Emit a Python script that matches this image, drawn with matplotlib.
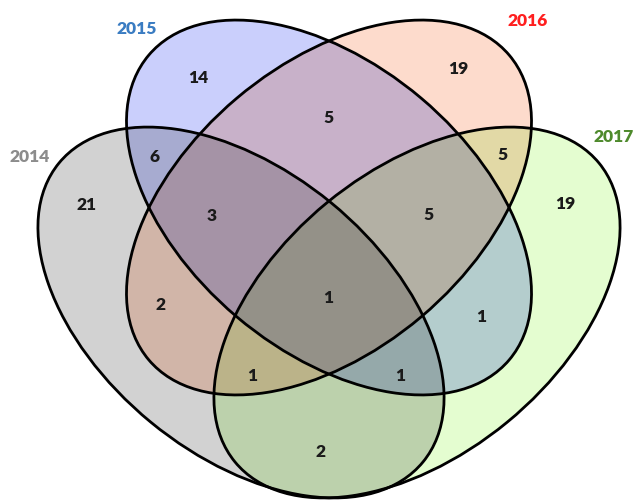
import matplotlib
matplotlib.use("Agg")
import matplotlib.pyplot as plt
from matplotlib.patches import Ellipse
import numpy as np

# sets and region counts
years = ["2014", "2015", "2016", "2017"]
regions = ["2014", "2015", "2016", "2017",
           "2014&2015", "2015&2016", "2016&2017",
           "2014&2015&2016", "2015&2016&2017", "2014&2016",
           "2014&2015&2016&2017", "2015&2017",
           "2014&2016&2017", "2014&2015&2017", "2014&2017"]
counts = [21, 14, 19, 19,
          6, 5, 5,
          3, 5, 2,
          1, 1,
          1, 1, 2]


def main():
    fill_colors = {"2014": (211, 211, 211),
                   "2015": (202, 207, 252),
                   "2016": (253, 219, 204),
                   "2017": (228, 253, 208)}
    label_colors = {"2014": "#8c8c8c", "2015": "#3a7cc2",
                    "2016": "#ff1f1f", "2017": "#4e8a2c"}
    # ellipse geometry in pixel space: (cx, cy, semi major, semi minor, angle)
    shapes = {"2014": (241, 312.5, 235.5, 142, 39.4),
              "2015": (329, 207.5, 236, 143, 40.2),
              "2016": (329, 207.5, 236, 143, -40.2),
              "2017": (417, 312.5, 235.5, 142, -39.4)}
    label_pos = {"2014": (30, 157), "2015": (137, 29),
                 "2016": (528, 21), "2017": (614, 137)}
    text_pos = [(87, 205), (198, 78), (458, 69), (565, 204),
                (154, 157), (328, 118), (502, 155),
                (212, 216), (428, 215), (160, 305),
                (328, 298), (481, 317),
                (252, 376), (400, 376), (320, 452)]

    W, H = 635, 501
    fig = plt.figure(figsize=(W / 100, H / 100), dpi=100)
    ax = fig.add_axes([0, 0, 1, 1])
    ax.set_xlim(0, W)
    ax.set_ylim(H, 0)
    ax.axis("off")

    # overlapping fills multiply like transparent films
    xs = np.linspace(0, W, 2 * W)
    ys = np.linspace(0, H, 2 * H)
    gx, gy = np.meshgrid(xs, ys)
    img = np.ones((len(ys), len(xs), 3))
    for y in years:
        cx, cy, a, b, ang = shapes[y]
        t = np.deg2rad(ang)
        dx, dy = gx - cx, gy - cy
        u = dx * np.cos(t) + dy * np.sin(t)
        v = -dx * np.sin(t) + dy * np.cos(t)
        inside = (u / a) ** 2 + (v / b) ** 2 <= 1
        img[inside] *= np.array(fill_colors[y]) / 255.0
    ax.imshow(img, extent=(0, W, H, 0), origin="upper", interpolation="bilinear")

    for y in years:
        cx, cy, a, b, ang = shapes[y]
        e = Ellipse((cx, cy), 2 * a, 2 * b, angle=ang, fill=False,
                    edgecolor="black", linewidth=2.0)
        ax.add_patch(e)
        ax.text(label_pos[y][0], label_pos[y][1], y, color=label_colors[y],
                fontsize=12.5, fontweight="heavy", family="Lato",
                ha="center", va="center")

    for (px, py), c in zip(text_pos, counts):
        ax.text(px, py, str(c), color="#1a1a1a", fontsize=12.5, fontweight="heavy",
                family="Lato", ha="center", va="center")

    ax.set_xlim(0, W)
    ax.set_ylim(H, 0)
    fig.savefig("out.png", dpi=100)


if __name__ == "__main__":
    main()
